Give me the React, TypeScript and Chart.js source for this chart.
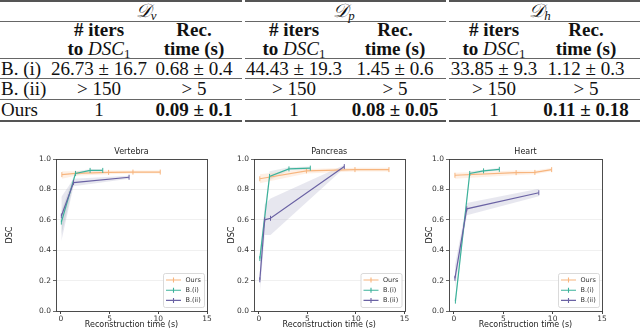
import React, { useEffect, useRef } from 'react';
import { Chart, registerables } from 'chart.js';
Chart.register(...registerables);

// ---------- table data ----------
const groupSubscripts = ['v', 'p', 'h'];
const rowLabels = ['B. (i)', 'B. (ii)', 'Ours'];
const iters_v = ['26.73 ± 16.7', '> 150', '1'];
const time_v = ['0.68 ± 0.4', '> 5', '0.09 ± 0.1'];
const iters_p = ['44.43 ± 19.3', '> 150', '1'];
const time_p = ['1.45 ± 0.6', '> 5', '0.08 ± 0.05'];
const iters_h = ['33.85 ± 9.3', '> 150', '1'];
const time_h = ['1.12 ± 0.3', '> 5', '0.11 ± 0.18'];
const boldTimeRow = 2;

// ---------- chart data ----------
const chartTitles = ['Vertebra', 'Pancreas', 'Heart'];
const seriesLabels = ['Ours', 'B.(i)', 'B.(ii)'];
const xTickValues = [0, 5, 10, 15];
const yTickValues = [0, 0.2, 0.4, 0.6, 0.8, 1.0];

// Vertebra
const oursX_v = [0.1, 1.5, 4.9, 7.4, 10.2];
const oursY_v = [0.897, 0.905, 0.912, 0.914, 0.914];
const oursLo_v = [0.87, 0.89, 0.9, 0.905, 0.905];
const oursHi_v = [0.92, 0.92, 0.925, 0.925, 0.925];
const b1X_v = [0.05, 1.5, 3.0, 4.3];
const b1Y_v = [0.585, 0.905, 0.925, 0.925];
const b1Lo_v = [0.5, 0.89, 0.918, 0.918];
const b1Hi_v = [0.66, 0.92, 0.932, 0.932];
const b2X_v = [0.05, 1.3, 7.0];
const b2Y_v = [0.625, 0.845, 0.88];
const b2Lo_v = [0.46, 0.82, 0.87];
const b2Hi_v = [0.75, 0.87, 0.89];

// Pancreas
const oursX_p = [0.1, 4.9, 9.9, 13.4];
const oursY_p = [0.87, 0.922, 0.93, 0.93];
const oursLo_p = [0.84, 0.905, 0.918, 0.918];
const oursHi_p = [0.9, 0.935, 0.942, 0.942];
const b1X_p = [0.1, 1.1, 3.1, 5.3];
const b1Y_p = [0.345, 0.885, 0.935, 0.94];
const b1Lo_p = [0.3, 0.86, 0.925, 0.93];
const b1Hi_p = [0.4, 0.92, 0.945, 0.95];
const b2X_p = [0.1, 0.6, 1.2, 8.8];
const b2Y_p = [0.205, 0.6, 0.61, 0.95];
const b2Lo_p = [0.12, 0.5, 0.5, 0.94];
const b2Hi_p = [0.3, 0.7, 0.74, 0.96];

// Heart
const oursX_h = [0.1, 6.3, 8.2, 9.9];
const oursY_h = [0.893, 0.91, 0.912, 0.93];
const oursLo_h = [0.87, 0.895, 0.9, 0.92];
const oursHi_h = [0.91, 0.925, 0.925, 0.94];
const b1X_h = [0.15, 1.6, 3.0, 4.6];
const b1Y_h = [0.065, 0.905, 0.922, 0.932];
const b1Lo_h = [0.04, 0.89, 0.915, 0.925];
const b1Hi_h = [0.09, 0.92, 0.93, 0.94];
const b2X_h = [0.1, 1.3, 8.6];
const b2Y_h = [0.215, 0.672, 0.778];
const b2Lo_h = [0.15, 0.63, 0.755];
const b2Hi_h = [0.3, 0.71, 0.805];

const lineColors = ['#f7b57e', '#3cb29b', '#6a62a4'];
const bandColors = ['rgba(252, 200, 160, 0.28)', 'rgba(150, 170, 175, 0.22)', 'rgba(160, 160, 190, 0.25)'];

const FONT = "'DejaVu Sans', sans-serif";

type Series = { x: number[]; y: number[]; lo: number[]; hi: number[] };

const chartSeries: Series[][] = [
  [
    { x: oursX_v, y: oursY_v, lo: oursLo_v, hi: oursHi_v },
    { x: b1X_v, y: b1Y_v, lo: b1Lo_v, hi: b1Hi_v },
    { x: b2X_v, y: b2Y_v, lo: b2Lo_v, hi: b2Hi_v },
  ],
  [
    { x: oursX_p, y: oursY_p, lo: oursLo_p, hi: oursHi_p },
    { x: b1X_p, y: b1Y_p, lo: b1Lo_p, hi: b1Hi_p },
    { x: b2X_p, y: b2Y_p, lo: b2Lo_p, hi: b2Hi_p },
  ],
  [
    { x: oursX_h, y: oursY_h, lo: oursLo_h, hi: oursHi_h },
    { x: b1X_h, y: b1Y_h, lo: b1Lo_h, hi: b1Hi_h },
    { x: b2X_h, y: b2Y_h, lo: b2Lo_h, hi: b2Hi_h },
  ],
];

const framePlugin = {
  id: 'frameLegend',
  afterDraw(chart: any) {
    const { ctx, chartArea } = chart;
    const { left, right, top, bottom } = chartArea;
    ctx.save();
    // title centred over the plot
    ctx.fillStyle = '#222';
    ctx.font = `8px ${FONT}`;
    ctx.textAlign = 'center';
    ctx.textBaseline = 'middle';
    ctx.fillText(chart.options.plugins.subTitleText, (left + right) / 2, top - 6.7);
    // frame
    ctx.strokeStyle = '#3a3a3a';
    ctx.lineWidth = 0.9;
    ctx.strokeRect(Math.round(left) + 0.5, Math.round(top) + 0.5, Math.round(right - left), Math.round(bottom - top));
    // legend
    const entries = chart.data.datasets.filter((d: any) => d.legendEntry);
    const bw = 41, bh = 34;
    const bx = right - 3 - bw, by = bottom - 4 - bh;
    ctx.fillStyle = 'rgba(255,255,255,0.85)';
    ctx.strokeStyle = '#d0d0d0';
    ctx.lineWidth = 0.8;
    ctx.beginPath();
    (ctx as any).roundRect(bx + 0.5, by + 0.5, bw, bh, 2);
    ctx.fill();
    ctx.stroke();
    ctx.font = `6.5px ${FONT}`;
    ctx.textAlign = 'left';
    ctx.textBaseline = 'middle';
    entries.forEach((d: any, i: number) => {
      const yy = by + 7 + i * 10.2;
      ctx.strokeStyle = d.borderColor;
      ctx.lineWidth = 1.1;
      ctx.beginPath();
      ctx.moveTo(bx + 3, yy);
      ctx.lineTo(bx + 18, yy);
      ctx.moveTo(bx + 10.5, yy - 2.5);
      ctx.lineTo(bx + 10.5, yy + 2.5);
      ctx.stroke();
      ctx.fillStyle = '#333';
      ctx.fillText(d.label, bx + 22.5, yy);
    });
    ctx.restore();
  },
};

function SubChart({ index, left, width, yAxisWidth, rightPad }: { index: number; left: number; width: number; yAxisWidth: number; rightPad: number }) {
  const ref = useRef<HTMLCanvasElement>(null);
  useEffect(() => {
    if (!ref.current) return;
    const datasets: any[] = [];
    chartSeries[index].forEach((s, si) => {
      datasets.push({
        label: seriesLabels[si] + ' lower',
        data: s.x.map((x, i) => ({ x, y: s.lo[i] })),
        borderWidth: 0,
        pointRadius: 0,
        fill: false,
        order: 10,
      });
      datasets.push({
        label: seriesLabels[si] + ' upper',
        data: s.x.map((x, i) => ({ x, y: s.hi[i] })),
        borderWidth: 0,
        pointRadius: 0,
        backgroundColor: bandColors[si],
        fill: '-1',
        order: 10,
      });
      datasets.push({
        label: seriesLabels[si],
        legendEntry: true,
        data: s.x.map((x, i) => ({ x, y: s.y[i] })),
        borderColor: lineColors[si],
        backgroundColor: lineColors[si],
        borderWidth: 1.2,
        pointStyle: 'line',
        rotation: 90,
        pointRadius: 2.5,
        pointBorderWidth: 1,
        pointBorderColor: lineColors[si],
        fill: false,
        tension: 0,
        order: 3 - si,
      });
    });
    const chart = new Chart(ref.current, {
      type: 'line',
      data: { datasets },
      plugins: [framePlugin],
      options: {
        animation: false,
        responsive: false,
        maintainAspectRatio: false,
        devicePixelRatio: 1,
        layout: { padding: { left: 0, right: rightPad, top: 19, bottom: 0 } },
        plugins: {
          legend: { display: false },
          tooltip: { enabled: false },
          title: { display: false },
          subTitleText: chartTitles[index],
        },
        scales: {
          x: {
            type: 'linear',
            min: -0.5,
            max: 15,
            afterBuildTicks: (s: any) => {
              s.ticks = xTickValues.map((v) => ({ value: v }));
            },
            afterFit: (s: any) => {
              s.height = 19;
            },
            ticks: { font: { family: FONT, size: 7.5 }, color: '#333', padding: 1, maxRotation: 0, callback: (v: any) => String(v) },
            grid: { drawOnChartArea: false, drawTicks: true, tickLength: 3, tickColor: '#444' },
            border: { display: false },
            title: { display: true, text: 'Reconstruction time (s)', font: { family: FONT, size: 8 }, color: '#222', padding: { top: 0, bottom: 0.2 } },
          },
          y: {
            type: 'linear',
            min: 0,
            max: 1,
            afterBuildTicks: (s: any) => {
              s.ticks = yTickValues.map((v) => ({ value: v }));
            },
            afterFit: (s: any) => {
              s.width = yAxisWidth;
            },
            ticks: { font: { family: FONT, size: 7.5 }, color: '#333', padding: 2, callback: (v: any) => Number(v).toFixed(1) },
            grid: { color: '#ececec', lineWidth: 0.8, tickColor: '#444', tickLength: 3 },
            border: { display: false },
            title: { display: true, text: 'DSC', font: { family: FONT, size: 8 }, color: '#222', padding: { top: 5.5, bottom: 0 } },
          },
        },
      } as any,
    });
    return () => chart.destroy();
  }, [index, yAxisWidth, rightPad]);
  return (
    <canvas
      ref={ref}
      width={width}
      height={190}
      style={{ position: 'absolute', left, top: 140, width, height: 190 }}
    />
  );
}

const colA = [99, 294, 494];
const colB = [194, 395, 586];
const colD = [146, 344, 540];
const groupSpans = [[0, 242], [245, 446], [449, 640]];
const rowY = [68.5, 89, 110];

function Txt({ cx, cy, children, bold, alignLeft }: any) {
  return (
    <div
      style={{
        position: 'absolute',
        left: alignLeft ? cx : cx - 100,
        width: 200,
        top: cy - 11,
        height: 22,
        lineHeight: '22px',
        textAlign: alignLeft ? 'left' : 'center',
        fontWeight: bold ? 'bold' : 'normal',
        whiteSpace: 'nowrap',
      }}
    >
      {children}
    </div>
  );
}

function Rule({ x0, x1, y, th }: any) {
  return <div style={{ position: 'absolute', left: x0, width: x1 - x0, top: y, height: th, background: th > 1 ? '#555' : '#666' }} />;
}

function Table() {
  const iters = [iters_v, iters_p, iters_h];
  const times = [time_v, time_p, time_h];
  const rules: any[] = [];
  groupSpans.forEach(([a, b], g) => {
    rules.push(<Rule key={`t${g}`} x0={a} x1={b} y={0} th={2} />);
    rules.push(<Rule key={`d${g}`} x0={a} x1={b} y={20.5} th={1} />);
    rules.push(<Rule key={`h${g}`} x0={a} x1={b} y={58} th={1} />);
    rules.push(<Rule key={`r1${g}`} x0={a} x1={b} y={77.5} th={1} />);
    rules.push(<Rule key={`r2${g}`} x0={a} x1={b} y={99} th={1} />);
    rules.push(<Rule key={`b${g}`} x0={a} x1={b} y={120} th={2} />);
  });
  return (
    <div style={{ position: 'absolute', left: 0, top: 0, width: 640, height: 125, fontFamily: "'Liberation Serif', serif", fontSize: 19, color: '#111' }}>
      {rules}
      {groupSubscripts.map((s, g) => (
        <Txt key={`D${g}`} cx={colD[g]} cy={11}>
          <span style={{ fontStyle: 'italic' }}>𝒟</span>
          <sub style={{ fontSize: '0.68em', fontStyle: 'italic', verticalAlign: '-0.2em', lineHeight: 0 }}>{s}</sub>
        </Txt>
      ))}
      {groupSubscripts.map((s, g) => (
        <React.Fragment key={`H${g}`}>
          <Txt cx={colA[g]} cy={30} bold># iters</Txt>
          <Txt cx={colB[g]} cy={30} bold>Rec.</Txt>
          <Txt cx={colA[g]} cy={49}>
            <b>to</b> <i>DSC</i>
            <sub style={{ fontSize: '0.68em', verticalAlign: '-0.2em', lineHeight: 0 }}>1</sub>
          </Txt>
          <Txt cx={colB[g]} cy={49} bold>time (s)</Txt>
        </React.Fragment>
      ))}
      {rowLabels.map((r, i) => (
        <Txt key={`L${i}`} cx={1} cy={rowY[i]} alignLeft>{r}</Txt>
      ))}
      {rowLabels.map((r, i) => (
        <React.Fragment key={`R${i}`}>
          {groupSubscripts.map((s, g) => (
            <React.Fragment key={`c${g}`}>
              <Txt cx={colA[g]} cy={rowY[i]}>{iters[g][i]}</Txt>
              <Txt cx={colB[g]} cy={rowY[i]} bold={i === boldTimeRow}>{times[g][i]}</Txt>
            </React.Fragment>
          ))}
        </React.Fragment>
      ))}
    </div>
  );
}

export default function App() {
  return (
    <div style={{ position: 'absolute', left: 0, top: 0, width: 640, height: 330, background: '#fff', overflow: 'hidden' }}>
      <Table />
      <SubChart index={0} left={0} width={215} yAxisWidth={56} rightPad={8} />
      <SubChart index={1} left={222} width={193} yAxisWidth={32} rightPad={10.5} />
      <SubChart index={2} left={420} width={192} yAxisWidth={29} rightPad={10} />
    </div>
  );
}
